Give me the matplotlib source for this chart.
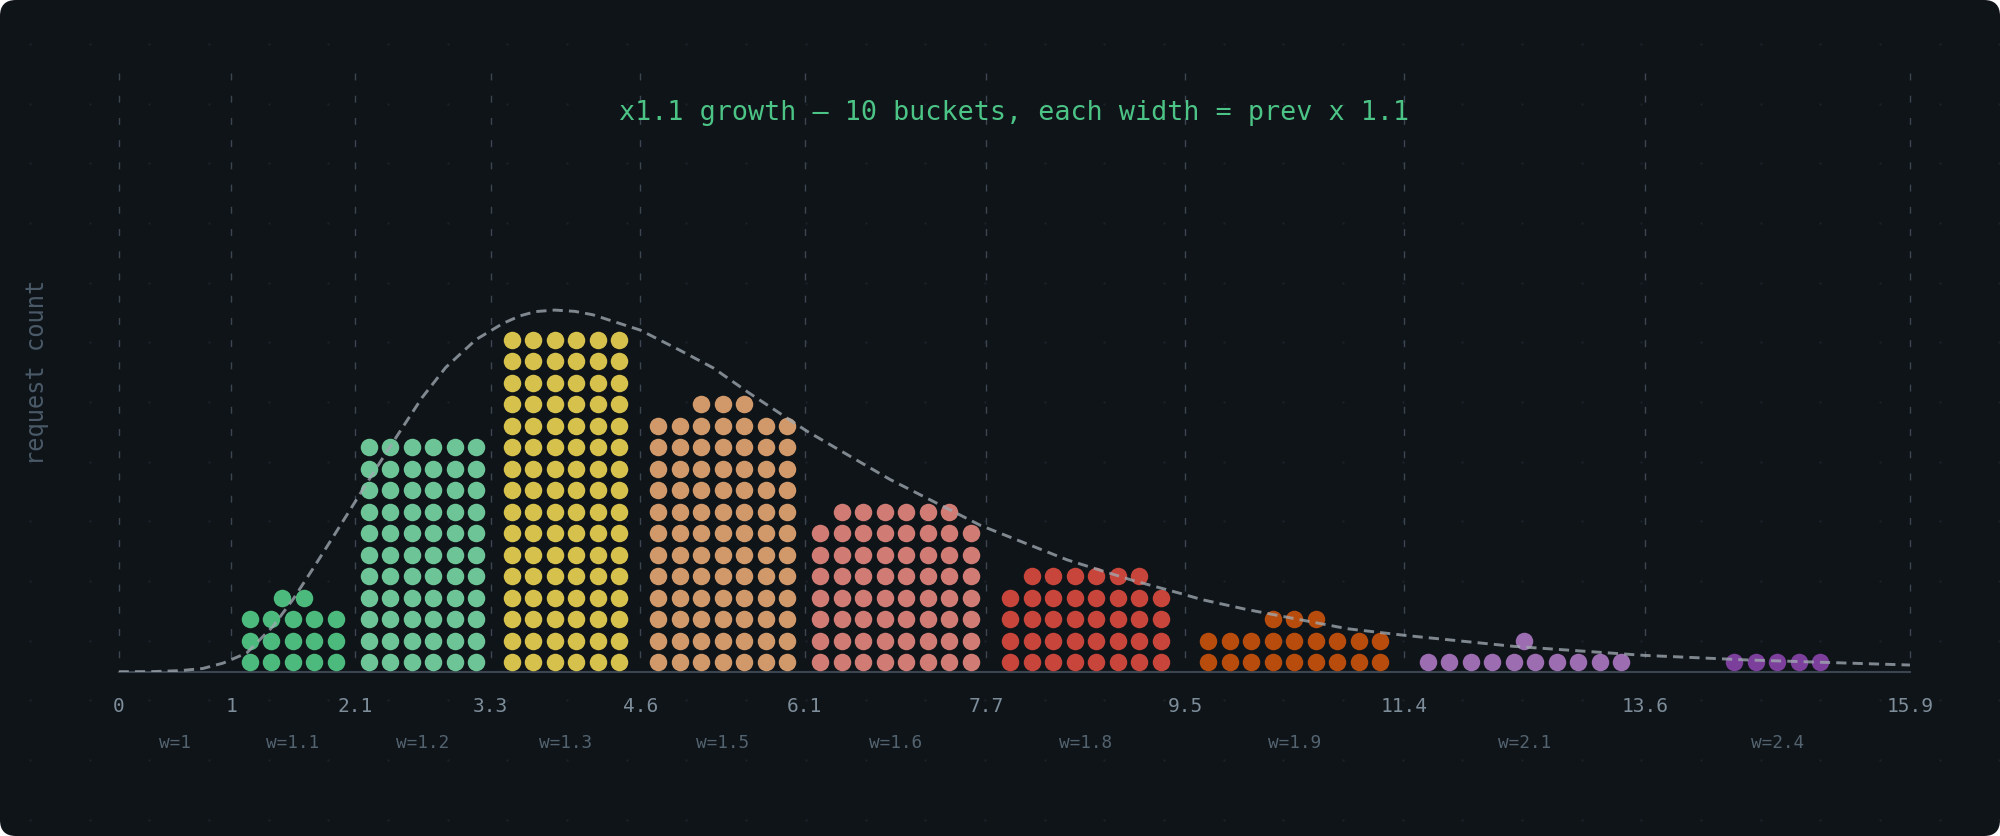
import numpy as np
import matplotlib
matplotlib.use("Agg")
import matplotlib.pyplot as plt
from matplotlib.patches import FancyBboxPatch

# ---------------- data ----------------
boundaries = [0, 1, 2.1, 3.31, 4.641, 6.1051, 7.71561, 9.487171, 11.4358881, 13.57947691, 15.937424601]
boundary_labels = ["0", "1", "2.1", "3.3", "4.6", "6.1", "7.7", "9.5", "11.4", "13.6", "15.9"]
width_labels = ["w=1", "w=1.1", "w=1.2", "w=1.3", "w=1.5", "w=1.6", "w=1.8", "w=1.9", "w=2.1", "w=2.4"]
counts = [0, 17, 66, 96, 87, 62, 38, 21, 11, 5]
bucket_colors = ["#4cba7c", "#4cba7c", "#6dc597", "#d5c14b", "#d1996a",
                 "#d07b74", "#c7453a", "#b84c0c", "#9c6db1", "#7c3f9c"]

# reference density curve (height in dot rows)
curve_x = [0, 0.3, 0.55, 0.75, 0.93, 1.14, 1.37, 1.55, 1.73, 1.9, 2.08, 2.2, 2.29,
           2.5, 2.7, 2.91, 3.18, 3.42, 3.57, 3.71, 3.88, 4.06, 4.22, 4.64, 4.99, 5.29, 5.61,
           6.12, 6.86, 7.67, 8.44, 9.02, 9.44, 9.64, 10.03, 10.93, 11.46, 12.41,
           13.57, 14.47, 15.937]
curve_y = [0, 0.005, 0.05, 0.15, 0.40, 0.87, 2.09, 3.35, 4.8, 6.2, 7.7, 8.7, 9.45,
           11.15, 12.75, 14.15, 15.45, 16.2, 16.55, 16.75, 16.82, 16.76, 16.6, 15.89, 14.96, 14.13, 12.96,
           11.2, 8.95, 6.8, 5.2, 4.25, 3.65, 3.35, 2.9, 2.0, 1.68, 1.18,
           0.76, 0.55, 0.31]

title = "x1.1 growth \u2014 10 buckets, each width = prev x 1.1"
ylabel = "request count"

# ---------------- layout ----------------
W, H, DPI = 2000, 836, 100
BG = "#0f1419"
MONO = "DejaVu Sans Mono"

fig = plt.figure(figsize=(W / DPI, H / DPI), dpi=DPI, facecolor="white")

# background card with faint dot grid
bg = fig.add_axes([0, 0, 1, 1], zorder=-5)
bg.set_xlim(0, W)
bg.set_ylim(H, 0)
bg.axis("off")
bg.add_patch(FancyBboxPatch((0, 0), W, H, boxstyle="round,pad=0,rounding_size=16",
                            facecolor=BG, edgecolor="none"))
gx = np.arange(30, W, 59.68)
gy = np.arange(44, H, 59.68)
GX, GY = np.meshgrid(gx, gy)
bg.scatter(GX.ravel(), GY.ravel(), s=3, color="#1a2128", linewidths=0)

# main axes, pixel-placed
left_px, right_px, top_px, base_px = 118.6, 1910.0, 73.0, 671.7
ax = fig.add_axes([left_px / W, (H - base_px) / H, (right_px - left_px) / W, (base_px - top_px) / H])
ax.set_facecolor("none")

row_px = 21.5
ax_h_rows = (base_px - top_px) / row_px
ax.set_xlim(boundaries[0], boundaries[-1])
ax.set_ylim(0, ax_h_rows)
px_per_unit = (right_px - left_px) / (boundaries[-1] - boundaries[0])
dx = row_px / px_per_unit

# dashed vertical guides at bucket boundaries (drawn top -> bottom)
for b in boundaries:
    ax.plot([b, b], [ax_h_rows, 0], color="#3b4651", lw=1.0, ls=(0, (5, 11)),
            zorder=1, clip_on=False)

# dots
for i, n in enumerate(counts):
    if n == 0:
        continue
    lo, hi = boundaries[i], boundaries[i + 1]
    c = (lo + hi) / 2
    cols = int(5 * (hi - lo) + 1e-9)
    xs, ys = [], []
    full, rem = divmod(n, cols)
    for r in range(full):
        for j in range(cols):
            xs.append(c + (j - (cols - 1) / 2) * dx)
            ys.append(r + 0.44)
    for j in range(rem):
        xs.append(c + (j - (rem - 1) / 2) * dx)
        ys.append(full + 0.44)
    ax.scatter(xs, ys, s=(17.5 * 0.72) ** 2, color=bucket_colors[i], linewidths=0, zorder=3)

# density curve
ax.plot(curve_x, curve_y, color="#a0a9b1", lw=2.1, alpha=0.78, zorder=4,
        ls=(0, (3.5, 2.1)), dash_capstyle="butt", solid_joinstyle="round")

# ticks, spines
ax.set_xticks(boundaries, boundary_labels)
ax.set_yticks([])
for s in ["left", "right", "top"]:
    ax.spines[s].set_visible(False)
ax.spines["bottom"].set_color("#3a4550")
ax.spines["bottom"].set_linewidth(1.5)
ax.spines["bottom"].set_zorder(2)
ax.tick_params(axis="x", length=0, pad=18.5, labelsize=14, labelcolor="#7d8d9a")
for lab in ax.get_xticklabels():
    lab.set_fontfamily(MONO)

# width labels under the buckets
for i, lab in enumerate(width_labels):
    cx = (boundaries[i] + boundaries[i + 1]) / 2
    ax.text(cx, -71 / row_px, lab, ha="center", va="center", fontsize=12.8,
            color="#53636f", family=MONO, clip_on=False)

# title & ylabel
fig.text((left_px + right_px) / 2 / W, (H - 113) / H, title, ha="center", va="center",
         fontsize=19.3, color="#4cc486", family=MONO)
fig.text(37 / W, (H - 372) / H, ylabel, rotation=90, ha="center", va="center",
         fontsize=17, color="#4a5a68", family=MONO)

fig.savefig("out.png", dpi=DPI, facecolor=fig.get_facecolor())
